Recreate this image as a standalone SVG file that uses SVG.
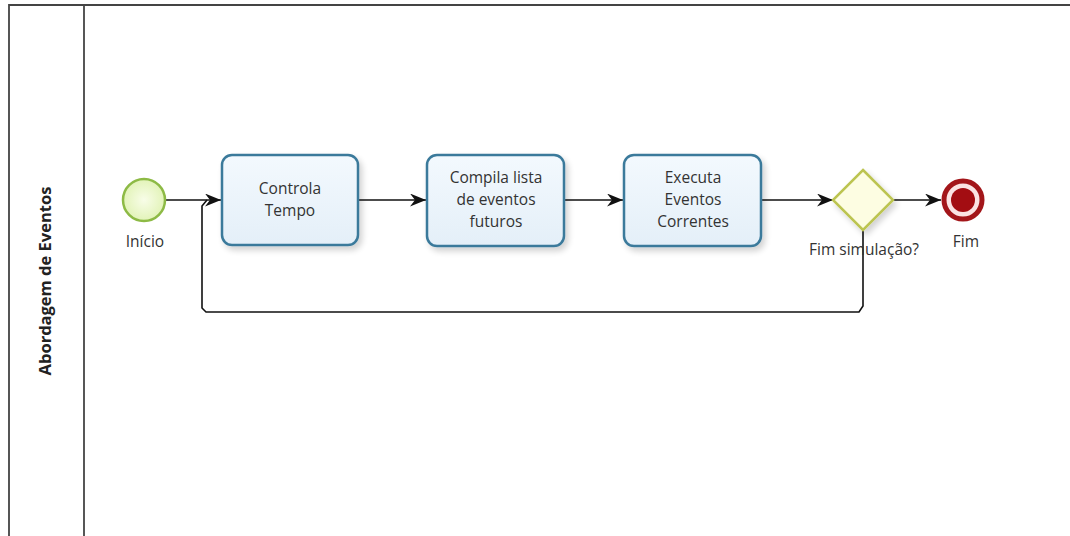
<svg xmlns="http://www.w3.org/2000/svg" width="1070" height="536" viewBox="0 0 1070 536">
  <style>
    .lbl { font-family: "Open Sans", "Liberation Sans", sans-serif; font-size: 15.5px; fill: #333; text-anchor: middle; }
    .lane { font-family: "Open Sans", "Liberation Sans", sans-serif; font-size: 16.5px; font-weight: bold; fill: #222; text-anchor: middle; }
    .task { fill: url(#taskFill); stroke: #3b7a9b; stroke-width: 2.5; filter: url(#shadow); }
    .flow { fill: none; stroke: #111; stroke-width: 1.6; }
  </style>
  <defs>
    <linearGradient id="taskFill" x1="0" y1="0" x2="0" y2="1">
      <stop offset="0" stop-color="#f3f9fe"/>
      <stop offset="1" stop-color="#e4eff8"/>
    </linearGradient>
    <radialGradient id="startFill" cx="0.5" cy="0.5" r="0.5">
      <stop offset="0" stop-color="#f8fde8"/>
      <stop offset="1" stop-color="#e2f3b8"/>
    </radialGradient>
    <filter id="shadow" x="-20%" y="-20%" width="150%" height="150%">
      <feGaussianBlur in="SourceAlpha" stdDeviation="3"/>
      <feOffset dx="3" dy="4" result="b"/>
      <feComponentTransfer><feFuncA type="linear" slope="0.18"/></feComponentTransfer>
      <feMerge><feMergeNode/><feMergeNode in="SourceGraphic"/></feMerge>
    </filter>
    <marker id="arrow" viewBox="0 0 16 13" refX="16" refY="6.5" markerWidth="16" markerHeight="13" markerUnits="userSpaceOnUse" orient="auto">
      <path d="M0,0 L16,6.5 L0,13 L5,6.5 Z" fill="#111"/>
    </marker>
  </defs>

  <!-- pool and lane -->
  <g id="pool">
    <path d="M1072,5 L9,5 L9,540" fill="none" stroke="#444" stroke-width="1.8"/>
    <line x1="84" y1="5" x2="84" y2="540" stroke="#444" stroke-width="1.8"/>
    <text class="lane" transform="translate(51,281) rotate(-90)">Abordagem de Eventos</text>
  </g>

  <!-- sequence flows -->
  <g id="connectors">
    <path class="flow" d="M165,200 L221,200" marker-end="url(#arrow)"/>
    <path class="flow" d="M359,200 L426,200" marker-end="url(#arrow)"/>
    <path class="flow" d="M565,200 L623,200" marker-end="url(#arrow)"/>
    <path class="flow" d="M762,200 L833,200" marker-end="url(#arrow)"/>
    <path class="flow" d="M893,200 L941,200" marker-end="url(#arrow)"/>
    <path class="flow" d="M863,230 L863,306 L859,312 L206,312 L202,308 L202,206 L207,200"/>
  </g>

  <g id="start">
    <circle cx="144" cy="200" r="21" fill="url(#startFill)" stroke="#8dba45" stroke-width="2.5"/>
    <text class="lbl" x="145" y="247">Início</text>
  </g>

  <g id="controla-tempo">
    <rect class="task" x="222" y="155" width="136" height="90" rx="10"/>
    <text class="lbl" x="290" y="194">Controla</text>
    <text class="lbl" x="290" y="216">Tempo</text>
  </g>

  <g id="compila-lista">
    <rect class="task" x="427" y="155" width="137" height="91" rx="10"/>
    <text class="lbl" x="496" y="183">Compila lista</text>
    <text class="lbl" x="496" y="205">de eventos</text>
    <text class="lbl" x="496" y="227">futuros</text>
  </g>

  <g id="executa-eventos">
    <rect class="task" x="624" y="155" width="137" height="91" rx="10"/>
    <text class="lbl" x="693" y="183">Executa</text>
    <text class="lbl" x="693" y="205">Eventos</text>
    <text class="lbl" x="693" y="227">Correntes</text>
  </g>

  <g id="gateway">
    <polygon points="863,170 893,200 863,230 833,200" fill="#fdfde2" stroke="#bcc451" stroke-width="2.5" filter="url(#shadow)"/>
    <text class="lbl" x="864" y="255">Fim simulação?</text>
  </g>

  <g id="end">
    <circle cx="963" cy="200" r="19" fill="#fbe3e3" stroke="#a3161a" stroke-width="5"/>
    <circle cx="963" cy="200" r="12" fill="#a30d12"/>
    <text class="lbl" x="966" y="247">Fim</text>
  </g>
</svg>
